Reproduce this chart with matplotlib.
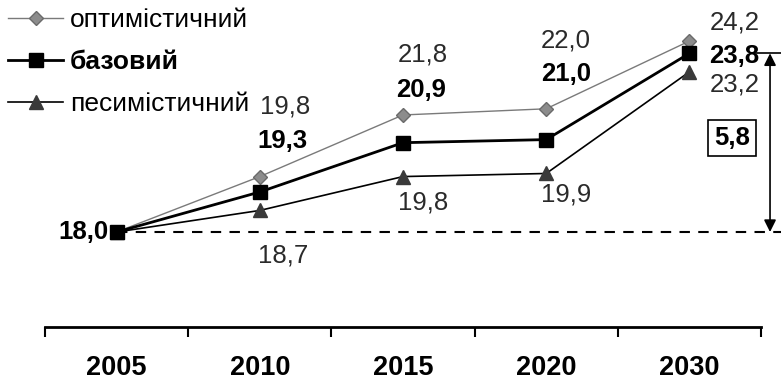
import matplotlib
matplotlib.use("Agg")
import matplotlib.pyplot as plt
from matplotlib.ticker import FixedLocator

plt.rcParams['font.family'] = ['Liberation Sans', 'DejaVu Sans']

years = ['2005', '2010', '2015', '2020', '2030']
optimistic = [18.0, 19.8, 21.8, 22.0, 24.2]
base = [18.0, 19.3, 20.9, 21.0, 23.8]
pessimistic = [18.0, 18.7, 19.8, 19.9, 23.2]
names = ['оптимістичний', 'базовий', 'песимістичний']

# label offsets in pixels (dx, dy) from each point
opt_off = [None, (25, 70), (20, 60), (20, 68), (20, 19)]
base_off = [(-8, 0), (23, 51), (18, 53), (20, 66), (20, -3)]
pes_off = [None, (23, -45), (20, -26), (20, -21), (20, -13)]

fig = plt.figure(figsize=(7.81, 3.81), dpi=100)
ax = fig.add_axes([0.0576, 0.1417, 0.9168, 0.8583])
x = list(range(len(years)))

l1, = ax.plot(x, optimistic, color='#7a7a7a', lw=1.0, marker='D', ms=7.5,
              mfc='#8c8c8c', mec='#6a6a6a', zorder=3)
l2, = ax.plot(x, base, color='black', lw=2.0, marker='s', ms=10,
              mfc='black', mec='black', zorder=4)
l3, = ax.plot(x, pessimistic, color='black', lw=1.2, marker='^', ms=10,
              mfc='#3a3a3a', mec='#3a3a3a', zorder=3)

fs = 18.5
for i in x:
    if opt_off[i]:
        ax.annotate(f"{optimistic[i]:.1f}".replace('.', ','), (i, optimistic[i]),
                    xytext=opt_off[i], textcoords='offset pixels',
                    ha='left' if i == 4 else 'center', va='center',
                    fontsize=fs, color='#2a2a2a')
    ax.annotate(f"{base[i]:.1f}".replace('.', ','), (i, base[i]),
                xytext=base_off[i], textcoords='offset pixels',
                ha='right' if i == 0 else ('left' if i == 4 else 'center'),
                va='center', fontsize=fs, fontweight='bold', color='black')
    if pes_off[i]:
        ax.annotate(f"{pessimistic[i]:.1f}".replace('.', ','), (i, pessimistic[i]),
                    xytext=pes_off[i], textcoords='offset pixels',
                    ha='left' if i == 4 else 'center', va='center',
                    fontsize=fs, color='#2a2a2a')

# dashed baseline at the 2005 level
ax.plot([0, 4.64], [base[0], base[0]], color='black', lw=1.5,
        ls=(0, (5, 4)), clip_on=False, zorder=2)

# growth bracket 2005 -> 2030
ax.plot([4.445, 4.64], [base[4], base[4]], color='black', lw=1.2, clip_on=False)
ax.annotate('', xy=(4.563, base[0]), xytext=(4.563, base[4]),
            arrowprops=dict(arrowstyle='<|-|>', color='black', lw=1.2,
                            mutation_scale=18, shrinkA=0, shrinkB=0),
            annotation_clip=False)
ax.text(4.297, 21.05, f"{base[4] - base[0]:.1f}".replace('.', ','),
        ha='center', va='center', fontsize=fs, fontweight='bold',
        bbox=dict(boxstyle='square,pad=0.25', fc='white', ec='black', lw=1.2))

ax.set_xlim(-0.5, 4.5)
ax.set_ylim(14.916, 25.532)
for s in ['top', 'right', 'left']:
    ax.spines[s].set_visible(False)
ax.spines['bottom'].set_linewidth(2)
ax.set_yticks([])
ax.xaxis.set_major_locator(FixedLocator([i - 0.5 for i in range(6)]))
ax.xaxis.set_minor_locator(FixedLocator(x))
ax.set_xticklabels([])
ax.set_xticklabels(years, minor=True, fontsize=19.5, fontweight='bold')
ax.tick_params(axis='x', which='major', length=7, width=1.5, direction='out')
ax.tick_params(axis='x', which='minor', length=0, pad=20)

leg = ax.legend([l1, l2, l3], names, loc='upper left', bbox_to_anchor=(0.0, 1.0),
                bbox_transform=fig.transFigure, frameon=False, fontsize=19,
                handlelength=2.1, handletextpad=0.25, labelspacing=0.68,
                borderaxespad=0.2, borderpad=0.1)
leg.get_texts()[1].set_fontweight('bold')

fig.savefig("out.png", dpi=100)
